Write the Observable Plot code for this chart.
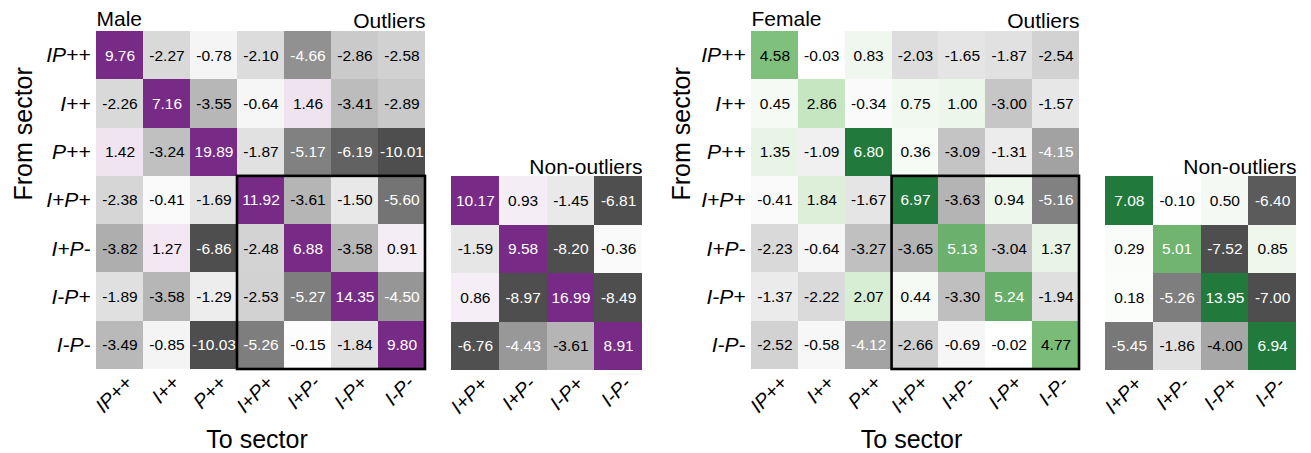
<!DOCTYPE html>
<html><head><meta charset="utf-8">
<script src="https://cdn.jsdelivr.net/npm/d3@7"></script>
<script src="https://cdn.jsdelivr.net/npm/@observablehq/plot@0.6"></script>
<style>
body{margin:0;background:#fff;}
#wrap{position:relative;width:1311px;height:453px;overflow:hidden;background:#fff;}
.panel{position:absolute;top:0;}
</style></head><body><div id="wrap"></div>
<script>
// ---- data ----
const sectors = ["IP++", "I++", "P++", "I+P+", "I+P-", "I-P+", "I-P-"];
const nonOutlierSectors = ["I+P+", "I+P-", "I-P+", "I-P-"];

const maleOutliers = [
  [9.76, -2.27, -0.78, -2.10, -4.66, -2.86, -2.58],
  [-2.26, 7.16, -3.55, -0.64, 1.46, -3.41, -2.89],
  [1.42, -3.24, 19.89, -1.87, -5.17, -6.19, -10.01],
  [-2.38, -0.41, -1.69, 11.92, -3.61, -1.50, -5.60],
  [-3.82, 1.27, -6.86, -2.48, 6.88, -3.58, 0.91],
  [-1.89, -3.58, -1.29, -2.53, -5.27, 14.35, -4.50],
  [-3.49, -0.85, -10.03, -5.26, -0.15, -1.84, 9.80]
];
const maleNonOutliers = [
  [10.17, 0.93, -1.45, -6.81],
  [-1.59, 9.58, -8.20, -0.36],
  [0.86, -8.97, 16.99, -8.49],
  [-6.76, -4.43, -3.61, 8.91]
];
const femaleOutliers = [
  [4.58, -0.03, 0.83, -2.03, -1.65, -1.87, -2.54],
  [0.45, 2.86, -0.34, 0.75, 1.00, -3.00, -1.57],
  [1.35, -1.09, 6.80, 0.36, -3.09, -1.31, -4.15],
  [-0.41, 1.84, -1.67, 6.97, -3.63, 0.94, -5.16],
  [-2.23, -0.64, -3.27, -3.65, 5.13, -3.04, 1.37],
  [-1.37, -2.22, 2.07, 0.44, -3.30, 5.24, -1.94],
  [-2.52, -0.58, -4.12, -2.66, -0.69, -0.02, 4.77]
];
const femaleNonOutliers = [
  [7.08, -0.10, 0.50, -6.40],
  [0.29, 5.01, -7.52, 0.85],
  [0.18, -5.26, 13.95, -7.00],
  [-5.45, -1.86, -4.00, 6.94]
];

// ---- styling ----
const FONT = '"Liberation Sans", Arial, Helvetica, sans-serif';
const stopDomain = [-6.84, -5.625, -4.5, -3.375, -2.25, -1.125, 0, 0.45, 1.35, 2.86, 4.58, 5.13, 6.8];
const grayRange = ["#4e4e4e", "#737373", "#969696", "#bdbdbd", "#d9d9d9", "#f0f0f0", "#ffffff"];
const purpleRange = ["#f9f4f9", "#f2e6f2", "#d8c2dc", "#a983b9", "#9970ab", "#772a86"];
const greenRange = ["#f5faf4", "#e8f4e5", "#c5e6c1", "#80c07d", "#6bb16d", "#217a3c"];
const lightText = v => v > 5 || v < -4.05;

function toCells(matrix, rows, cols) {
  return matrix.flatMap((r, i) => r.map((v, j) => ({i, j, from: rows[i], to: cols[j], v})));
}

function heatmap(o) {
  const cells = toCells(o.matrix, o.rows, o.cols);
  const nR = o.rows.length, nC = o.cols.length;
  const marks = [
    Plot.rect(cells, {x1: d => d.j, x2: d => d.j + 1, y1: d => d.i, y2: d => d.i + 1, fill: "v", shapeRendering: "crispEdges"}),
    Plot.text(cells, {filter: d => !lightText(d.v), x: d => d.j + 0.5, y: d => d.i + 0.5, text: d => d.v.toFixed(2), fill: "black", fontSize: 15.5}),
    Plot.text(cells, {filter: d => lightText(d.v), x: d => d.j + 0.5, y: d => d.i + 0.5, text: d => d.v.toFixed(2), fill: "white", fontSize: 15.5}),
    Plot.axisX({ticks: d3.range(nC).map(j => j + 0.5), tickFormat: d => o.cols[Math.floor(d)], tickSize: 0, tickPadding: 10, tickRotate: -45, fontSize: 20, fontStyle: "italic", dx: 9, label: null})
  ];
  if (o.showY) {
    marks.push(Plot.axisY({ticks: d3.range(nR).map(i => i + 0.5), tickFormat: d => o.rows[Math.floor(d)], tickSize: 0, tickPadding: 6, fontSize: 21, fontStyle: "italic", label: null}));
  }
  if (o.box) {
    const a = o.cols.indexOf(o.box[0]), b = o.cols.indexOf(o.box[o.box.length - 1]) + 1;
    const c = o.rows.indexOf(o.box[0]), e = o.rows.indexOf(o.box[o.box.length - 1]) + 1;
    marks.push(Plot.rect([{a, b, c, e}], {x1: "a", x2: "b", y1: "c", y2: "e", fill: "none", stroke: "black", strokeWidth: 2.6}));
  }
  if (o.title) marks.push(Plot.text([o.title], {frameAnchor: "top-left", textAnchor: "start", lineAnchor: "bottom", dy: -6, fontSize: 21}));
  if (o.corner) marks.push(Plot.text([o.corner], {frameAnchor: "top-right", textAnchor: "end", lineAnchor: "bottom", dy: o.cornerDy, fontSize: 21}));
  if (o.yLabel) marks.push(Plot.text([o.yLabel], {frameAnchor: "left", rotate: -90, dx: o.yLabelDx, fontSize: 25}));
  if (o.xLabel) marks.push(Plot.text([o.xLabel], {frameAnchor: "bottom", lineAnchor: "bottom", dy: 78, dx: -4, fontSize: 25}));
  const svg = Plot.plot({
    width: o.width, height: 453,
    marginLeft: o.ml, marginRight: o.mr, marginTop: o.mt, marginBottom: o.mb,
    style: {fontFamily: FONT, fontSize: "15px", color: "black", background: "transparent", overflow: "visible"},
    x: {type: "linear", domain: [0, nC], axis: null},
    y: {type: "linear", domain: [nR, 0], axis: null},
    color: {type: "linear", domain: stopDomain, range: [...grayRange, ...o.posRange], clamp: true},
    marks
  });
  const div = document.createElement("div");
  div.className = "panel";
  div.style.left = o.left + "px";
  div.appendChild(svg);
  document.getElementById("wrap").appendChild(div);
}

heatmap({matrix: maleOutliers, rows: sectors, cols: sectors, posRange: purpleRange, left: 0, width: 430, ml: 96, mr: 5, mt: 31, mb: 84,
  showY: true, box: nonOutlierSectors, title: "Male", corner: "Outliers", cornerDy: -4, yLabel: "From sector", yLabelDx: -73, xLabel: "To sector"});
heatmap({matrix: maleNonOutliers, rows: nonOutlierSectors, cols: nonOutlierSectors, posRange: purpleRange, left: 430, width: 220, ml: 21, mr: 8, mt: 176, mb: 83,
  showY: false, corner: "Non-outliers", cornerDy: -3});
heatmap({matrix: femaleOutliers, rows: sectors, cols: sectors, posRange: greenRange, left: 655, width: 430, ml: 96, mr: 6, mt: 31, mb: 84,
  showY: true, box: nonOutlierSectors, title: "Female", corner: "Outliers", cornerDy: -4, yLabel: "From sector", yLabelDx: -70, xLabel: "To sector"});
heatmap({matrix: femaleNonOutliers, rows: nonOutlierSectors, cols: nonOutlierSectors, posRange: greenRange, left: 1085, width: 220, ml: 20, mr: 9, mt: 176, mb: 83,
  showY: false, corner: "Non-outliers", cornerDy: -3});
</script></body></html>
